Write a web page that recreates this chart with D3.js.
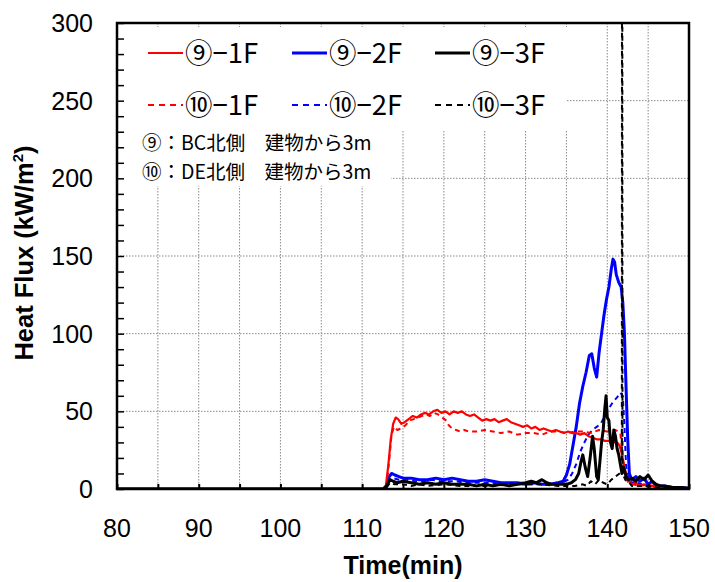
<!DOCTYPE html>
<html><head><meta charset="utf-8">
<script src="https://cdn.jsdelivr.net/npm/d3@7"></script>
<style>
html,body{margin:0;padding:0;background:#fff;}
svg{display:block;}
</style></head>
<body>
<svg id="chart" width="715" height="582"></svg>
<script>
// ---- data ----
const xTicks = [80, 90, 100, 110, 120, 130, 140, 150];
const yTicks = [0, 50, 100, 150, 200, 250, 300];

const s9_1F = [[80,0],[112.5,0],[112.9,2],[113.2,15],[113.5,32],[113.8,42],[114.1,46],[114.4,45],[114.8,42],[115.2,43],[115.7,45],[116.2,47],[116.7,46],[117.2,48],[117.7,49],[118.2,48],[118.7,50],[119.2,51],[119.7,49],[120.2,50],[120.7,48],[121.2,50],[121.7,49],[122.2,50],[122.7,48],[123.2,47],[123.7,48],[124.2,46],[124.7,44],[125.2,45],[125.7,44],[126.2,45],[126.7,43],[127.2,44],[127.7,45],[128.2,43],[128.7,42],[129.2,41],[129.7,40],[130.2,41],[130.7,39],[131.2,40],[131.7,38],[132.2,39],[132.7,38],[133.2,37],[133.7,38],[134.2,37],[134.7,36],[135.2,37],[135.7,36],[136.2,36],[136.7,35],[137.2,36],[137.7,34],[138.2,33],[138.7,32],[139.2,32],[139.7,31],[140.2,31],[140.7,30],[141.2,30],[141.5,28],[141.8,22],[142.1,14],[142.4,8],[142.7,5],[143,3],[143.5,4],[144,2],[144.5,3],[145,1],[145.5,2],[146,1],[146.5,2],[147,1],[148,1],[149,0.5],[150,0.5]];
const s10_1F = [[80,0],[112.6,0],[113,3],[113.3,18],[113.6,35],[113.9,40],[114.3,38],[114.8,39],[115.3,41],[115.8,44],[116.3,45],[116.8,46],[117.3,47],[117.8,48],[118.3,47],[118.8,49],[119.3,48],[119.8,46],[120.3,44],[120.6,41],[121,39],[121.5,38],[122,37],[122.5,38],[123,37],[124,37],[125,38],[126,37],[127,36],[128,37],[129,35],[130,36],[131,36],[132,35],[133,37],[134,37],[135,36],[136,37],[137,37],[138,36],[139,38],[140,37],[141,38],[141.6,36],[141.9,20],[142.2,8],[142.6,4],[143,3],[144,2],[145,3],[146,1],[147,2],[148,1],[150,0.5]];
const s9_2F = [[80,0],[112.6,0],[113,2],[113.3,8],[113.6,10],[114,9],[114.5,8],[115,7],[116,7],[117,6],[118,6],[119,7],[120,6],[121,7],[122,6],[123,5],[124,5],[125,6],[126,5],[127,4],[128,4],[129,4],[130,3],[131,4],[132,3],[133,3],[134,4],[134.6,5],[135,9],[135.4,16],[135.8,28],[136.2,40],[136.6,55],[137,66],[137.4,75],[137.8,86],[138.1,87],[138.4,78],[138.7,72],[139,88],[139.3,100],[139.6,112],[139.9,122],[140.2,130],[140.5,142],[140.7,148],[140.9,146],[141.1,138],[141.4,133],[141.7,130],[141.9,120],[142.1,100],[142.3,65],[142.5,32],[142.7,10],[143,6],[143.5,8],[144,5],[144.5,7],[145,3],[145.5,5],[146,2],[147,2],[148,1],[149,1],[150,0.5]];
const s10_2F = [[80,0],[112.6,0],[113,2],[113.4,9],[113.8,7],[114.5,6],[115.5,6],[116.5,5],[117.5,5],[118.5,6],[119.5,5],[120.5,5],[121.5,5],[122.5,4],[123.5,4],[124.5,4],[125.5,4],[126.5,3],[127.5,3],[128.5,3],[129.5,4],[130.5,3],[131.5,3],[132.5,3],[133.5,4],[134.5,4],[135.2,6],[135.7,10],[136.2,16],[136.7,24],[137.2,30],[137.7,35],[138.2,38],[138.7,40],[139.2,42],[139.7,47],[140.2,52],[140.7,56],[141.2,59],[141.6,62],[141.9,60],[142.1,40],[142.3,15],[142.6,6],[143,4],[143.5,5],[144,3],[144.5,4],[145,2],[146,2],[147,1],[148,1],[150,0.5]];
const s9_3F = [[80,0],[112.6,0],[113,2],[113.4,6],[113.8,5],[114.3,4],[115,5],[116,4],[117,3],[118,4],[119,3],[120,4],[121,3],[122,3],[123,3],[124,2],[125,3],[126,2],[127,3],[128,2],[129,3],[130,4],[130.7,5],[131.3,4],[132,6],[132.6,4],[133.2,3],[134,3],[135,3],[135.6,4],[136.1,6],[136.5,10],[136.8,18],[137,22],[137.3,14],[137.6,8],[137.9,20],[138.2,34],[138.4,26],[138.7,8],[138.9,6],[139.1,18],[139.3,30],[139.5,38],[139.7,52],[139.85,60],[140,46],[140.2,44],[140.4,30],[140.6,26],[140.8,38],[141,34],[141.2,26],[141.4,22],[141.6,16],[141.8,10],[142,14],[142.3,8],[142.6,6],[143,7],[143.5,5],[144,8],[144.5,6],[145,9],[145.5,5],[146,3],[146.5,2],[147,2],[148,1],[149,1],[150,0.5]];
const s10_3F = [[80,0],[112.6,0],[113,1],[113.4,4],[114,3],[115,3],[116,2],[117,3],[118,2],[120,3],[122,2],[124,2],[126,2],[128,3],[130,3],[132,3],[134,2],[136,2],[137,3],[137.5,2],[138,5],[138.5,3],[139,6],[139.5,4],[140,3],[140.5,6],[141,8],[141.5,10],[141.78,12],[141.8,320],[141.84,320],[141.86,10],[142.3,5],[142.7,4],[143,2],[144,2],[145,2],[146,1],[148,1],[150,0.5]];

const seriesNames = ["⑨−1F","⑨−2F","⑨−3F","⑩−1F","⑩−2F","⑩−3F"];
const seriesData = [s9_1F, s9_2F, s9_3F, s10_1F, s10_2F, s10_3F];
const seriesColors = ["#ff0000","#0000ff","#000000","#ff0000","#0000ff","#000000"];
const seriesDashed = [false,false,false,true,true,true];
const noteLines = ["⑨：BC北側　建物から3m","⑩：DE北側　建物から3m"];

// ---- layout ----
const svg = d3.select("#chart");
const L = 117, R = 689, T = 23, B = 489;
const x = d3.scaleLinear().domain([80,150]).range([L,R]);
const y = d3.scaleLinear().domain([0,300]).range([B,T]);
const numFont = "'Liberation Sans', Arial, sans-serif";
const jpFont = "'Noto Sans CJK JP', sans-serif";

// grid
const grid = svg.append("g");
grid.selectAll("line.v").data(d3.range(85,150,5)).join("line")
  .attr("x1",d=>x(d)).attr("x2",d=>x(d)).attr("y1",T).attr("y2",B)
  .attr("stroke","#8a8a8a").attr("stroke-width",1).attr("stroke-dasharray","1.5,1.5");
grid.selectAll("line.h").data(d3.range(50,300,50)).join("line")
  .attr("x1",L).attr("x2",R).attr("y1",d=>y(d)).attr("y2",d=>y(d))
  .attr("stroke","#8a8a8a").attr("stroke-width",1).attr("stroke-dasharray","1.5,1.5");

// legend background
svg.append("rect").attr("x",L+1).attr("y",27).attr("width",566-L).attr("height",104).attr("fill","#fff");
svg.append("rect").attr("x",L+1).attr("y",130).attr("width",390-L).attr("height",56).attr("fill","#fff");

// clip
svg.append("clipPath").attr("id","clip").append("rect").attr("x",L).attr("y",T).attr("width",R-L).attr("height",B-T);

const line = d3.line().x(d=>x(d[0])).y(d=>y(d[1]));
const order = [1,4,0,3,2,5];
const lg = svg.append("g").attr("clip-path","url(#clip)");
order.forEach(i=>{
  lg.append("path").datum(seriesData[i]).attr("d",line)
    .attr("fill","none").attr("stroke",seriesColors[i])
    .attr("stroke-width", seriesDashed[i] ? 2 : (i===0 ? 2.2 : 3))
    .attr("stroke-dasharray", seriesDashed[i] ? "5,4" : null)
    .attr("stroke-linejoin","round");
});

// axes ticks (inward)
const ya = d3.axisLeft(y).tickValues(d3.range(0,301,10)).tickSize(-7).tickFormat("");
svg.append("g").attr("transform",`translate(${L},0)`).call(ya)
  .call(g=>g.select(".domain").remove())
  .call(g=>g.selectAll("line").attr("stroke","#000").attr("stroke-width",1.5));
const xa = d3.axisBottom(x).tickValues(d3.range(80,151,5)).tickSize(-5).tickFormat("");
svg.append("g").attr("transform",`translate(0,${B})`).call(xa)
  .call(g=>g.select(".domain").remove())
  .call(g=>g.selectAll("line").attr("stroke","#000").attr("stroke-width",2));

// frame
svg.append("rect").attr("x",L).attr("y",T).attr("width",R-L).attr("height",B-T)
  .attr("fill","none").attr("stroke","#000").attr("stroke-width",2.5);

// tick labels
svg.append("g").selectAll("text").data(yTicks).join("text")
  .attr("x",93).attr("y",d=>y(d)).attr("dy","0.36em").attr("text-anchor","end")
  .attr("font-family",numFont).attr("font-size",25).text(d=>d);
svg.append("g").selectAll("text").data(xTicks).join("text")
  .attr("x",d=>x(d)).attr("y",528).attr("dy","0.36em").attr("text-anchor","middle")
  .attr("font-family",numFont).attr("font-size",25).text(d=>d);

// axis titles
svg.append("text").attr("x",403).attr("y",574).attr("text-anchor","middle")
  .attr("font-family",numFont).attr("font-weight","bold").attr("font-size",25).text("Time(min)");
const yt = svg.append("text").attr("transform","translate(33,253) rotate(-90)").attr("text-anchor","middle")
  .attr("font-family",numFont).attr("font-weight","bold").attr("font-size",25.5);
yt.append("tspan").text("Heat Flux (kW/m");
yt.append("tspan").attr("font-size",15).attr("dy",-10).text("2");
yt.append("tspan").attr("dy",10).text(")");

// legend
const legX = [148, 292, 435];
const legY = [53, 105];
seriesNames.forEach((n,i)=>{
  const c = i%3, r = Math.floor(i/3);
  svg.append("line").attr("x1",legX[c]).attr("x2",legX[c]+35).attr("y1",legY[r]).attr("y2",legY[r])
    .attr("stroke",seriesColors[i]).attr("stroke-width",seriesDashed[i]?2:(i===0?2:3))
    .attr("stroke-dasharray",seriesDashed[i]?"6,5":null);
  svg.append("text").attr("x",legX[c]+37).attr("y",legY[r]).attr("dy","0.36em")
    .attr("font-family",jpFont).attr("font-size",27.5).text(n);
});
noteLines.forEach((t,i)=>{
  svg.append("text").attr("x",142).attr("y",143+i*29).attr("dy","0.36em")
    .attr("font-family",jpFont).attr("font-size",19.5).text(t);
});
</script>
</body></html>
